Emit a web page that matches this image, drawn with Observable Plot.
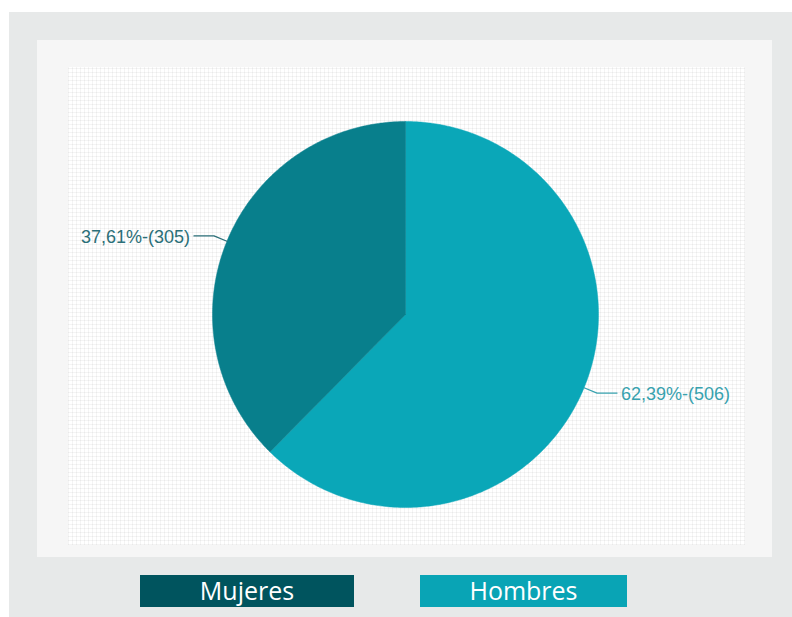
<!DOCTYPE html>
<html>
<head>
<meta charset="utf-8">
<script src="https://cdn.jsdelivr.net/npm/d3@7"></script>
<script src="https://cdn.jsdelivr.net/npm/@observablehq/plot@0.6"></script>
<style>
  html, body { margin: 0; padding: 0; background: #ffffff; width: 792px; height: 617px; overflow: hidden; }
  #outer { position: absolute; left: 9px; top: 12px; width: 783px; height: 605px; background: #e7e9e9; }
  #panel { position: absolute; left: 37px; top: 40px; width: 735px; height: 517px; background: #f6f6f6; }
  #grid { position: absolute; left: 68px; top: 67px; width: 677px; height: 478px;
    background-color: #ffffff;
    background-image:
      repeating-linear-gradient(0deg, rgba(0,0,0,0.045) 0px, rgba(0,0,0,0.045) 1px, transparent 1px, transparent 4px),
      repeating-linear-gradient(90deg, rgba(0,0,0,0.045) 0px, rgba(0,0,0,0.045) 1px, transparent 1px, transparent 4px);
  }
  #chart { position: absolute; left: 68px; top: 67px; }
  .legend { position: absolute; top: 575px; height: 32px; color: #ffffff; font-family: "Open Sans", sans-serif;
    font-size: 25px; line-height: 30px; text-align: center; }
</style>
</head>
<body>
<div id="outer"></div>
<div id="panel"></div>
<div id="grid"></div>
<div id="chart"></div>
<div class="legend" id="leg0" style="left:140px; width:214px; background:#00545e;">Mujeres</div>
<div class="legend" id="leg1" style="left:420px; width:207px; background:#09a4b5;">Hombres</div>
<script>
// Data
const categories = ["Hombres", "Mujeres"];
const counts = [506, 305];
const percentLabels = ["62,39%", "37,61%"];
const sliceColors = ["#0aa7b8", "#087f8c"];
const labelColors = ["#38a2af", "#2b6f78"];

// Layout constants (pixels)
const W = 677, H = 478;
const cx = 337, cy = 247, R = 193;

const pie = d3.pie().sort(null).value(d => d.count);
const rows = categories.map((c, i) => ({category: c, count: counts[i], pct: percentLabels[i], color: sliceColors[i], labelColor: labelColors[i]}));
const arcs = pie(rows);

// Polygon outlines for each slice (unit radius coordinates)
const polys = [];
arcs.forEach(a => {
  const n = Math.max(8, Math.ceil((a.endAngle - a.startAngle) / 0.01));
  polys.push({category: a.data.category, x: 0, y: 0});
  for (let k = 0; k <= n; k++) {
    const t = a.startAngle + (a.endAngle - a.startAngle) * k / n;
    polys.push({category: a.data.category, x: Math.sin(t), y: Math.cos(t)});
  }
  polys.push({category: a.data.category, x: 0, y: 0});
});

// Leader lines & labels
const ext = 14 / R, hor = 20 / R;
const leaders = [];
const labels = [];
arcs.forEach(a => {
  const m = (a.startAngle + a.endAngle) / 2;
  const sx = Math.sin(m), sy = Math.cos(m);
  const ex = sx * (1 + ext), ey = sy * (1 + ext);
  const side = sx >= 0 ? 1 : -1;
  const hx = ex + side * hor;
  leaders.push({category: a.data.category, x: sx, y: sy});
  leaders.push({category: a.data.category, x: ex, y: ey});
  leaders.push({category: a.data.category, x: hx, y: ey});
  labels.push({x: hx + side * 4 / R, y: ey, text: `${a.data.pct}-(${a.data.count})`, anchor: side > 0 ? "start" : "end", color: a.data.labelColor});
});

const colorOf = Object.fromEntries(rows.map(r => [r.category, r.color]));
const labColorOf = Object.fromEntries(rows.map(r => [r.category, r.labelColor]));

const marks = categories.map(c => Plot.line(polys.filter(p => p.category === c), {x: "x", y: "y", fill: colorOf[c], stroke: colorOf[c], strokeWidth: 0.5}));
categories.forEach(c => marks.push(Plot.line(leaders.filter(p => p.category === c), {x: "x", y: "y", stroke: labColorOf[c], strokeWidth: 1.3})));
labels.forEach(l => marks.push(Plot.text([l], {x: "x", y: "y", text: "text", textAnchor: l.anchor, fill: l.color,
  fontSize: 18, fontFamily: "Liberation Sans Narrow, Liberation Sans, sans-serif", dy: 1})));

const chart = Plot.plot({
  width: W, height: H,
  margin: 0,
  style: {background: "transparent", overflow: "visible"},
  x: {domain: [-cx / R, (W - cx) / R], range: [0, W], axis: null},
  y: {domain: [-(H - cy) / R, cy / R], range: [H, 0], axis: null},
  marks
});
document.getElementById("chart").appendChild(chart);
</script>
</body>
</html>
